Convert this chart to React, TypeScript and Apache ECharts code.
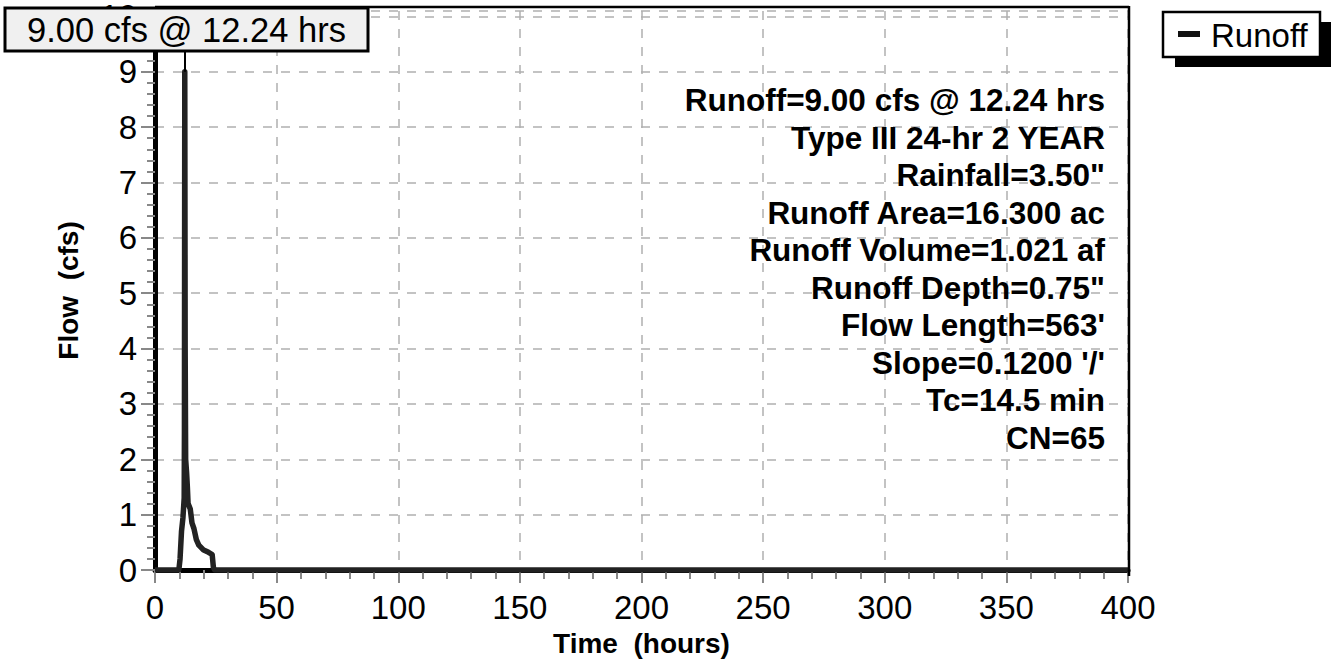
import React, { useEffect, useRef } from "react";
import * as echarts from "echarts";

const timeHours = [0, 9.5, 9.8, 10.3, 10.9, 11.5, 12.0, 12.1, 12.24, 12.4, 12.6, 13.0, 13.3, 13.6, 14.5, 15.2, 16.0, 17.0, 18.0, 20.0, 22.0, 23.5, 24.0, 24.5, 400];
const flowCfs = [0, 0, 0.0, 0.2, 0.7, 0.95, 1.3, 2.5, 9.0, 4.0, 2.0, 1.75, 1.5, 1.2, 1.1, 0.85, 0.75, 0.55, 0.45, 0.36, 0.32, 0.28, 0.05, 0, 0];

const xTicks = { min: 0, max: 400, interval: 50 };
const yTicks = { min: 0, max: 10.1, interval: 1 };

const seriesName = "Runoff";
const peakFlow = 9.0;
const peakTime = 12.24;

const infoLines = [
  "Runoff=9.00 cfs @ 12.24 hrs",
  "Type III 24-hr 2 YEAR",
  'Rainfall=3.50"',
  "Runoff Area=16.300 ac",
  "Runoff Volume=1.021 af",
  'Runoff Depth=0.75"',
  "Flow Length=563'",
  "Slope=0.1200 '/'",
  "Tc=14.5 min",
  "CN=65",
];

const FONT = '"Liberation Sans", Arial, Helvetica, sans-serif';

export default function App() {
  const ref = useRef<HTMLDivElement>(null);
  useEffect(() => {
    if (!ref.current) return;
    const chart = echarts.init(ref.current, undefined, { renderer: "svg" });
    const data = timeHours.map((t, i) => [t, flowCfs[i]]);
    const infoTexts = infoLines.map((line, i) => ({
      type: "text",
      right: 228,
      top: 84 + i * 37.5,
      z: 5,
      style: {
        text: line,
        font: `bold 31.5px ${FONT}`,
        fill: "#000",
        textAlign: "right",
      },
    }));
    const splitStyle = { color: "#b0b0b0", width: 1.5, type: [9, 9] };
    chart.setOption({
      animation: false,
      backgroundColor: "#fff",
      textStyle: { fontFamily: FONT },
      grid: { left: 155, right: 205, top: 7, bottom: 88, show: false },
      xAxis: {
        type: "value",
        min: xTicks.min,
        max: xTicks.max,
        interval: xTicks.interval,
        name: "Time  (hours)",
        nameLocation: "middle",
        nameGap: 59,
        nameTextStyle: { fontSize: 28, fontWeight: "bold", color: "#000", fontFamily: FONT },
        axisLine: { show: true, lineStyle: { color: "#000", width: 5 } },
        axisTick: { show: true, length: 13, lineStyle: { color: "#888", width: 2 } },
        minorTick: { show: true, splitNumber: 5, length: 9, lineStyle: { color: "#888", width: 2 } },
        axisLabel: { fontSize: 33, color: "#000", margin: 21, fontFamily: FONT },
        splitLine: { show: true, lineStyle: splitStyle },
      },
      yAxis: {
        type: "value",
        min: yTicks.min,
        max: yTicks.max,
        interval: yTicks.interval,
        name: "Flow  (cfs)",
        nameLocation: "middle",
        nameGap: 73,
        nameTextStyle: { fontSize: 28, fontWeight: "bold", color: "#000", fontFamily: FONT },
        axisLine: { show: true, lineStyle: { color: "#000", width: 5 } },
        axisTick: { show: true, length: 14, lineStyle: { color: "#888", width: 2 } },
        minorTick: { show: true, splitNumber: 5, length: 8, lineStyle: { color: "#888", width: 2 } },
        axisLabel: {
          fontSize: 33,
          color: "#000",
          margin: 18,
          fontFamily: FONT,
          formatter: (v: number) => (Number.isInteger(v) ? String(v) : ""),
        },
        splitLine: { show: true, lineStyle: splitStyle },
      },
      series: [
        {
          name: seriesName,
          type: "line",
          data,
          showSymbol: false,
          lineStyle: { color: "#222", width: 5.5, join: "round" },
          z: 3,
          markLine: {
            silent: true,
            symbol: "none",
            label: { show: false },
            lineStyle: { color: "#000", width: 2, type: "solid" },
            data: [[{ coord: [peakTime, peakFlow] }, { coord: [peakTime, yTicks.max] }]],
          },
        },
      ],
      graphic: [
        { type: "line", z: 8, shape: { x1: 155, y1: 7, x2: 1129, y2: 7 }, style: { stroke: "#000", lineWidth: 2.5 } },
        { type: "line", z: 8, shape: { x1: 1129, y1: 6, x2: 1129, y2: 576 }, style: { stroke: "#000", lineWidth: 2.5 } },
        {
          type: "group",
          z: 10,
          children: [
            { type: "rect", shape: { x: 5, y: 8, width: 363, height: 43 }, style: { fill: "#f0f0f0", stroke: "#000", lineWidth: 3 }, z: 10 },
            {
              type: "text",
              x: 186.5,
              y: 30,
              z: 11,
              style: {
                text: `${peakFlow.toFixed(2)} cfs @ ${peakTime.toFixed(2)} hrs`,
                font: `34.5px ${FONT}`,
                fill: "#000",
                textAlign: "center",
                textVerticalAlign: "middle",
              },
            },
          ],
        },
        {
          type: "group",
          z: 10,
          children: [
            { type: "rect", shape: { x: 1175, y: 22, width: 156, height: 45 }, style: { fill: "#000" }, z: 10 },
            { type: "rect", shape: { x: 1163, y: 12, width: 157, height: 45 }, style: { fill: "#fff", stroke: "#000", lineWidth: 2.5 }, z: 11 },
            { type: "line", shape: { x1: 1178, y1: 34, x2: 1200, y2: 34 }, style: { stroke: "#111", lineWidth: 6 }, z: 12 },
            {
              type: "text",
              x: 1211,
              y: 35,
              z: 12,
              style: { text: seriesName, font: `33px ${FONT}`, fill: "#000", textVerticalAlign: "middle" },
            },
          ],
        },
        ...infoTexts,
      ],
    });
    return () => chart.dispose();
  }, []);
  return <div ref={ref} style={{ position: "fixed", left: 0, top: 0, width: 1333, height: 662 }} />;
}
